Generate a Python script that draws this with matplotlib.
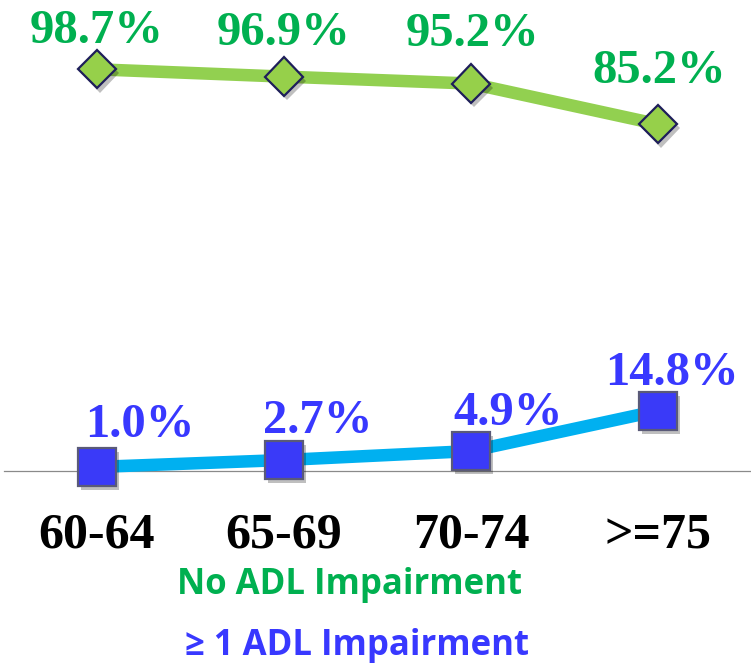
import matplotlib
matplotlib.use("Agg")
import matplotlib.pyplot as plt
import matplotlib.patheffects as pe

categories = ["60-64", "65-69", "70-74", ">=75"]
no_adl = [98.7, 96.9, 95.2, 85.2]
adl = [1.0, 2.7, 4.9, 14.8]
no_adl_labels = ["98.7%", "96.9%", "95.2%", "85.2%"]
adl_labels = ["1.0%", "2.7%", "4.9%", "14.8%"]
legend_texts = ["No ADL Impairment", "\u2265 1 ADL Impairment"]

W, H = 751, 663
fig = plt.figure(figsize=(W / 100, H / 100), dpi=100)
ax = fig.add_axes([3.5 / W, (H - 471) / H, 748 / W, 468 / H])
x = list(range(len(categories)))
ax.set_xlim(-0.5, 3.5)
ax.set_ylim(0, 468 / 4.07)
for s in ["top", "left", "right"]:
    ax.spines[s].set_visible(False)
ax.spines["bottom"].set_color("#8a8a8a")
ax.spines["bottom"].set_linewidth(0.9)
ax.set_yticks([])
ax.set_xticks(x, categories)
ax.tick_params(axis="x", length=0, pad=76 * 0.72)
for lbl in ax.get_xticklabels():
    lbl.set_fontfamily("Liberation Serif")
    lbl.set_fontweight("bold")
    lbl.set_fontsize(36)
    lbl.set_color("#000000")
    lbl.set_verticalalignment("baseline")
ax.patch.set_alpha(0)

green_line = "#92D050"
blue_line = "#00B0F0"
green_txt = "#00B050"
blue_txt = "#3838FF"

shadow = [pe.SimplePatchShadow(offset=(2, -3), shadow_rgbFace="#000000", alpha=0.25), pe.Normal()]

ax.plot(x, no_adl, color=green_line, lw=9, solid_capstyle="butt", zorder=3, clip_on=False)
ax.plot(x, no_adl, linestyle="none", marker="D", ms=19.5, mfc="#96D04A", mec="#1E1E5A",
        mew=1.6, zorder=4, clip_on=False, path_effects=shadow)
ax.plot(x, adl, color=blue_line, lw=9, solid_capstyle="butt", zorder=3, clip_on=False)
ax.plot(x, adl, linestyle="none", marker="s", ms=27.5, mfc="#3A3AF8", mec="#5A5A78",
        mew=1.6, zorder=4, clip_on=False, path_effects=shadow)

green_off = [(0, 26), (0, 32), (1, 38), (1, 41)]
blue_off = [(43, 30), (34, 27), (37, 26), (14, 26)]
for xi, v, lab, off in zip(x, no_adl, no_adl_labels, green_off):
    ax.annotate(lab, (xi, v), xytext=off, textcoords="offset pixels", ha="center", va="baseline",
                fontsize=35, fontweight="bold", family="Liberation Serif", color=green_txt,
                zorder=5, annotation_clip=False)
for xi, v, lab, off in zip(x, adl, adl_labels, blue_off):
    ax.annotate(lab, (xi, v), xytext=off, textcoords="offset pixels", ha="center", va="baseline",
                fontsize=35, fontweight="bold", family="Liberation Serif", color=blue_txt,
                zorder=5, annotation_clip=False)

fig.text(349.5 / W, (H - 594) / H, legend_texts[0], ha="center", va="baseline", fontsize=25,
         fontweight="bold", family=["Open Sans", "DejaVu Sans"], color=green_txt)
fig.text(357 / W, (H - 655) / H, legend_texts[1], ha="center", va="baseline", fontsize=25,
         fontweight="bold", family=["Open Sans", "DejaVu Sans"], color=blue_txt)

fig.savefig("out.png", dpi=100)
